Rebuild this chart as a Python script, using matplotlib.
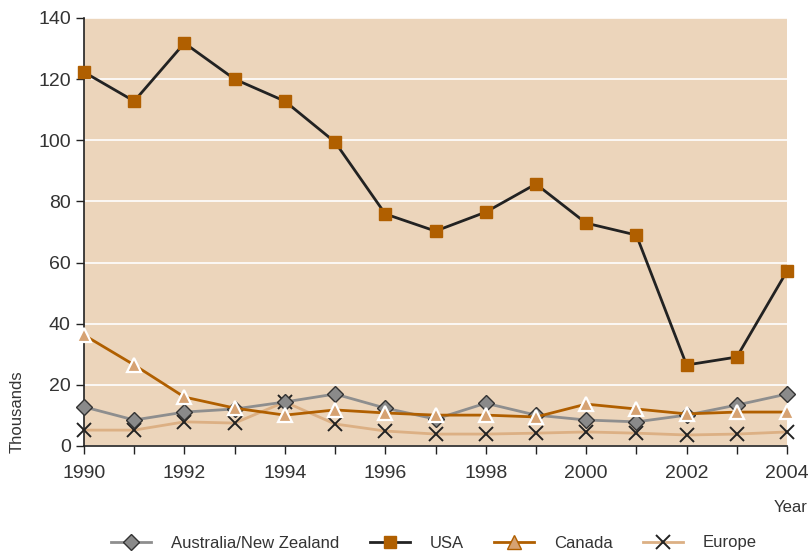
import matplotlib
matplotlib.use("Agg")
import matplotlib.pyplot as plt
from matplotlib.lines import Line2D
from matplotlib import font_manager

years = list(range(1990, 2005))
usa = [122.3, 112.8, 131.8, 120.0, 112.8, 99.4, 75.9, 70.3, 76.5, 85.7, 72.9, 69.0, 26.5, 29.1, 57.2]
canada = [36.3, 26.5, 16.0, 12.4, 10.1, 11.8, 10.8, 10.1, 10.1, 9.5, 13.7, 12.1, 10.5, 11.1, 11.1]
aus_nz = [12.8, 8.5, 11.1, 12.1, 14.4, 17.0, 12.4, 8.8, 14.0, 10.1, 8.5, 7.9, 10.1, 13.4, 17.0]
europe = [5.2, 5.2, 7.9, 7.5, 14.4, 7.2, 4.9, 3.9, 3.9, 4.2, 4.6, 4.2, 3.6, 3.9, 4.6]
series_names = ["Australia/New Zealand", "USA", "Canada", "Europe"]
yticks = [0, 20, 40, 60, 80, 100, 120, 140]
xticks = list(range(1990, 2005, 2))

avail = {f.name for f in font_manager.fontManager.ttflist}
fam = "Liberation Sans Narrow" if "Liberation Sans Narrow" in avail else "Liberation Sans"
plt.rcParams['font.family'] = [fam, 'DejaVu Sans']

fig = plt.figure(figsize=(8.11, 5.52), dpi=100)
ax = fig.add_axes([84/811, 1 - 446/552, (787-84)/811, (446-18)/552])
ax.set_facecolor("#ecd5bb")

c_gray = "#8e8e8e"
c_usa_line = "#222222"
c_orange = "#b05f00"
c_tan = "#d6a272"
c_eur = "#dcb084"

ax.plot(years, europe, color=c_eur, lw=2, marker="x", ms=10, mew=1.4, mec="#222222", zorder=3, clip_on=False)
ax.plot(years, aus_nz, color=c_gray, lw=2, marker="D", ms=8, mfc="#8a8a8a", mec="#333333", mew=1, zorder=4, clip_on=False)
ax.plot(years, canada, color=c_orange, lw=2, marker="^", ms=10, mfc=c_tan, mec="white", mew=1.6, zorder=5, clip_on=False)
ax.plot(years, usa, color=c_usa_line, lw=2, marker="s", ms=9, mfc=c_orange, mec=c_orange, zorder=6, clip_on=False)

ax.set_xlim(1990, 2004)
ax.set_ylim(0, 140)
ax.set_yticks(yticks)
ax.set_xticks(xticks)
ax.set_xticks(years, minor=True)
ax.yaxis.grid(True, color="white", lw=1.2)
ax.set_axisbelow(True)
for s in ["top", "right"]:
    ax.spines[s].set_visible(False)
for s in ["left", "bottom"]:
    ax.spines[s].set_color("#222222")
    ax.spines[s].set_linewidth(1.2)
ax.tick_params(axis="both", which="both", direction="out", length=6, width=1, color="#222222",
               labelsize=14, labelcolor="#333333")
ax.tick_params(axis="x", which="both", pad=8)
ax.set_ylabel("Thousands", fontsize=12, color="#333333")
ax.yaxis.set_label_coords(-0.085, 0.08)
fig.text(808/811, 1 - 508/552, "Year", fontsize=12, color="#333333", ha="right", va="center")

handles = [
    Line2D([], [], color=c_gray, lw=2, marker="D", ms=8, mfc="#8a8a8a", mec="#333333"),
    Line2D([], [], color=c_usa_line, lw=2, marker="s", ms=9, mfc=c_orange, mec=c_orange),
    Line2D([], [], color=c_orange, lw=2, marker="^", ms=10, mfc=c_tan, mec=c_orange),
    Line2D([], [], color=c_eur, lw=2, marker="x", ms=10, mew=1.4, mec="#222222"),
]
fig.legend(handles, series_names, loc="center", bbox_to_anchor=(434/811, 1 - 543/552), ncol=4,
           frameon=False, fontsize=12, handlelength=2.4, columnspacing=1.8, handletextpad=1.2,
           labelcolor="#333333", borderaxespad=0, borderpad=0)

fig.savefig("out.png", dpi=100)
